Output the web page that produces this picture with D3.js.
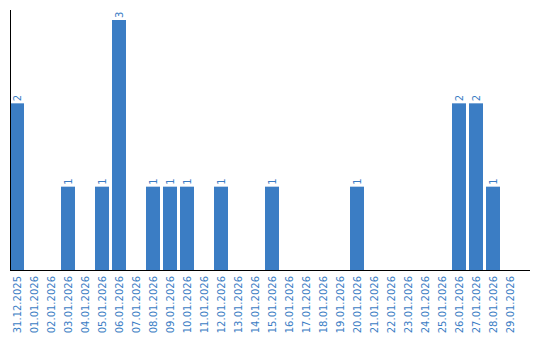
<!DOCTYPE html>
<html>
<head>
<meta charset="utf-8">
<script src="https://cdn.jsdelivr.net/npm/d3@7"></script>
<style>
  body { margin: 0; background: #fff; }
  text { font-family: "DejaVu Sans", Verdana, sans-serif; }
</style>
</head>
<body>
<div class="barChart"></div>
<script>
const dates = ['31.12.2025', '01.01.2026', '02.01.2026', '03.01.2026', '04.01.2026', '05.01.2026',
    '06.01.2026', '07.01.2026', '08.01.2026', '09.01.2026', '10.01.2026', '11.01.2026',
    '12.01.2026', '13.01.2026', '14.01.2026', '15.01.2026', '16.01.2026', '17.01.2026',
    '18.01.2026', '19.01.2026', '20.01.2026', '21.01.2026', '22.01.2026', '23.01.2026',
    '24.01.2026', '25.01.2026', '26.01.2026', '27.01.2026', '28.01.2026', '29.01.2026'];
const counts = [2, 0, 0, 1, 0, 1, 3, 0, 1, 1, 1, 0, 1, 0, 0, 1, 0, 0, 0, 0, 1, 0, 0, 0, 0, 0, 2, 2, 1, 0];

const width = 540, height = 340;
const plotLeft = 10, plotBottom = 270, plotTop = 20;
const color = '#3b7dc4';

const data = dates.map((d, i) => ({ date: d, value: counts[i] }));

const xScale = d3.scaleBand().domain(dates).range([plotLeft, 517]).paddingInner(3 / 17).paddingOuter(0);
const yScale = d3.scaleLinear().domain([0, 3]).range([plotBottom, plotTop]);

const svg = d3.select('.barChart')
    .append('svg')
    .attr('width', width)
    .attr('height', height);

svg.selectAll('.bar')
    .data(data.filter(d => d.value > 0))
    .enter()
    .append('rect')
    .attr('class', 'bar')
    .attr('x', d => xScale(d.date))
    .attr('y', d => yScale(d.value))
    .attr('width', xScale.bandwidth())
    .attr('height', d => plotBottom - yScale(d.value))
    .attr('fill', color);

// value labels above bars, rotated
svg.selectAll('.val')
    .data(data.filter(d => d.value > 0))
    .enter()
    .append('text')
    .attr('class', 'val')
    .attr('transform', d => `translate(${xScale(d.date) + xScale.bandwidth() / 2},${yScale(d.value) - 2}) rotate(-90)`)
    .attr('dy', '0.35em')
    .attr('fill', color)
    .style('font-size', '10px')
    .text(d => d.value);

// x axis
const xAxis = svg.append('g')
    .attr('transform', `translate(0,${plotBottom})`)
    .call(d3.axisBottom(xScale).tickSize(0).tickPadding(0));
xAxis.select('.domain').remove();
xAxis.selectAll('text')
    .attr('fill', color)
    .style('font-size', '10px')
    .style('font-family', '"DejaVu Sans", Verdana, sans-serif')
    .attr('text-anchor', 'end')
    .attr('transform', 'rotate(-90)')
    .attr('x', -6)
    .attr('y', 0)
    .attr('dy', '0.35em');

svg.append('line')
    .attr('x1', plotLeft).attr('x2', 530)
    .attr('y1', plotBottom + 0.5).attr('y2', plotBottom + 0.5)
    .attr('stroke', '#000');

// y axis line
svg.append('line')
    .attr('x1', plotLeft + 0.5).attr('x2', plotLeft + 0.5)
    .attr('y1', 10).attr('y2', plotBottom)
    .attr('stroke', '#000');
</script>
</body>
</html>
